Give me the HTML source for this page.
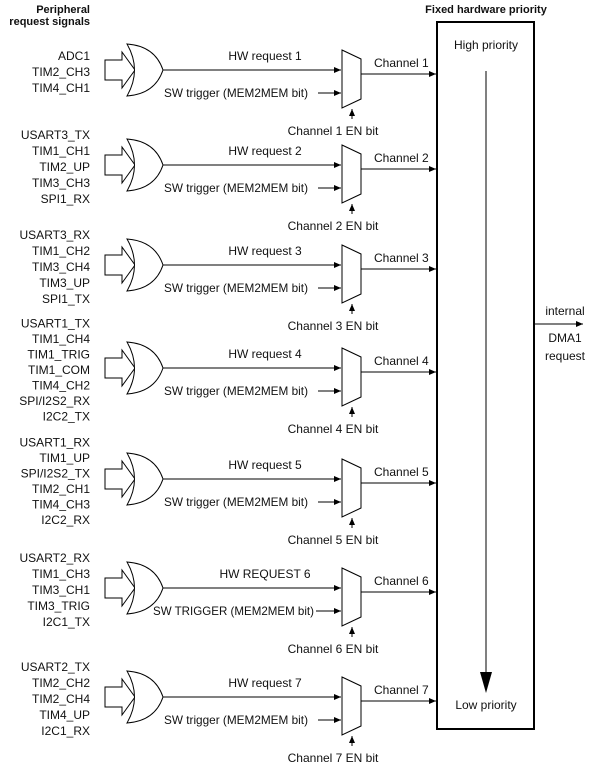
<!DOCTYPE html>
<html><head><meta charset="utf-8"><style>
html,body{margin:0;padding:0;background:#fff;}
svg{display:block;}
text{font-family:"Liberation Sans",Arial,sans-serif;font-size:12px;fill:#111;}
text.h{font-size:11px;font-weight:bold;}
</style></head><body>
<svg width="592" height="768" viewBox="0 0 592 768" xmlns="http://www.w3.org/2000/svg">
<defs>
<marker id="ah" markerWidth="8" markerHeight="8" refX="7" refY="4" orient="auto" markerUnits="userSpaceOnUse">
<path d="M0,1 L7,4 L0,7 z" fill="#000"/></marker>
</defs>
<text class="h" x="90" y="13" text-anchor="end">Peripheral</text>
<text class="h" x="90" y="25" text-anchor="end">request signals</text>
<text class="h" x="486" y="13" text-anchor="middle">Fixed hardware priority</text>
<rect x="437" y="22" width="97" height="707" fill="none" stroke="#000" stroke-width="2"/>
<text x="486" y="49" text-anchor="middle">High priority</text>
<text x="486" y="709" text-anchor="middle">Low priority</text>
<line x1="486" y1="71" x2="486" y2="676" stroke="#000" stroke-width="1"/>
<path d="M480,672 L492,672 L486,693 z" fill="#000"/>
<line x1="535" y1="324" x2="583" y2="324" stroke="#000" marker-end="url(#ah)"/>
<text x="565" y="315" text-anchor="middle">internal</text>
<text x="565" y="342" text-anchor="middle">DMA1</text>
<text x="565" y="360" text-anchor="middle">request</text>
<g id="chs"></g>
</svg>
<script>
var data=[
[70,["ADC1","TIM2_CH3","TIM4_CH1"],"HW request 1","SW trigger (MEM2MEM bit)","Channel 1"],
[165,["USART3_TX","TIM1_CH1","TIM2_UP","TIM3_CH3","SPI1_RX"],"HW request 2","SW trigger (MEM2MEM bit)","Channel 2"],
[265,["USART3_RX","TIM1_CH2","TIM3_CH4","TIM3_UP","SPI1_TX"],"HW request 3","SW trigger (MEM2MEM bit)","Channel 3"],
[368,["USART1_TX","TIM1_CH4","TIM1_TRIG","TIM1_COM","TIM4_CH2","SPI/I2S2_RX","I2C2_TX"],"HW request 4","SW trigger (MEM2MEM bit)","Channel 4"],
[479,["USART1_RX","TIM1_UP","SPI/I2S2_TX","TIM2_CH1","TIM4_CH3","I2C2_RX"],"HW request 5","SW trigger (MEM2MEM bit)","Channel 5"],
[588,["USART2_RX","TIM1_CH3","TIM3_CH1","TIM3_TRIG","I2C1_TX"],"HW REQUEST 6","SW TRIGGER (MEM2MEM bit)","Channel 6"],
[697,["USART2_TX","TIM2_CH2","TIM2_CH4","TIM4_UP","I2C1_RX"],"HW request 7","SW trigger (MEM2MEM bit)","Channel 7"]];
var s="";
data.forEach(function(d,i){
 var c=d[0],n=d[1].length,lh=n>5?15.5:16;
 var y0=c+2-(n-1)*lh/2;
 d[1].forEach(function(t,k){s+='<text x="90" y="'+(y0+k*lh+4)+'" text-anchor="end">'+t+'</text>';});
 s+='<path d="M105,'+(c-10)+' L122,'+(c-10)+' L122,'+(c-18)+' L135,'+c+' L122,'+(c+18)+' L122,'+(c+10)+' L105,'+(c+10)+' z" fill="#fff" stroke="#000"/>';
 s+='<path d="M127,'+(c-26)+' Q142,'+c+' 127,'+(c+26)+' Q155,'+(c+24)+' 163,'+c+' Q155,'+(c-24)+' 127,'+(c-26)+' z" fill="#fff" stroke="#000"/>';
 s+='<line x1="163" y1="'+c+'" x2="341" y2="'+c+'" stroke="#000" marker-end="url(#ah)"/>';
 s+='<text x="265" y="'+(c-10)+'" text-anchor="middle">'+d[2]+'</text>';
 if(i==5){
  s+='<text x="153" y="'+(c+27)+'" textLength="161" lengthAdjust="spacingAndGlyphs">'+d[3]+'</text>';
  s+='<line x1="316" y1="'+(c+23)+'" x2="341" y2="'+(c+23)+'" stroke="#000" marker-end="url(#ah)"/>';
 } else {
  s+='<text x="164" y="'+(c+27)+'" textLength="144" lengthAdjust="spacingAndGlyphs">'+d[3]+'</text>';
  s+='<line x1="318" y1="'+(c+23)+'" x2="341" y2="'+(c+23)+'" stroke="#000" marker-end="url(#ah)"/>';
 }
 s+='<path d="M342,'+(c-20)+' L361,'+(c-11)+' L361,'+(c+29)+' L342,'+(c+38)+' z" fill="#fff" stroke="#000"/>';
 s+='<line x1="361" y1="'+(c+4)+'" x2="436" y2="'+(c+4)+'" stroke="#000" marker-end="url(#ah)"/>';
 s+='<text x="374" y="'+(c-3)+'">'+d[4]+'</text>';
 s+='<line x1="352" y1="'+(c+49)+'" x2="352" y2="'+(c+39)+'" stroke="#000" marker-end="url(#ah)"/>';
 s+='<text x="333" y="'+(c+65)+'" text-anchor="middle">Channel '+(i+1)+' EN bit</text>';
});
document.getElementById("chs").innerHTML=s;
</script>
</body></html>
